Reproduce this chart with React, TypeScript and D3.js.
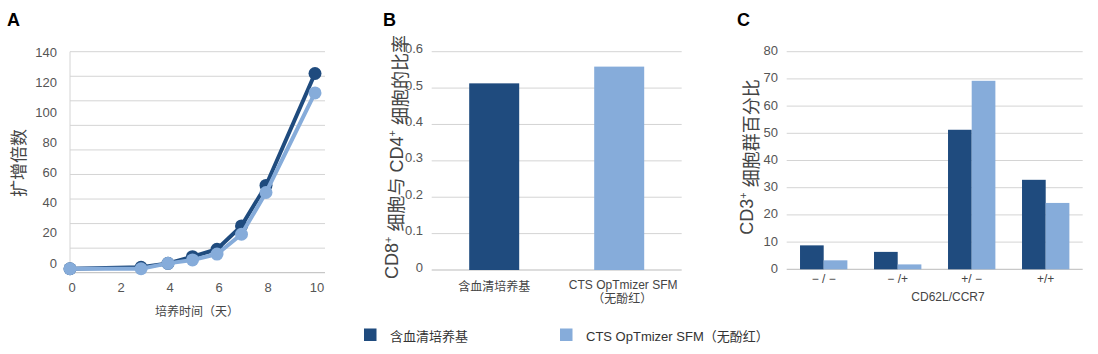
import React from "react";
import * as d3 from "d3";

// Panel A: expansion fold over culture days
const daysA = [0, 2.9, 4, 5, 6, 7, 8, 10];
const foldSerum = [2.4, 3.3, 5.7, 9.8, 14.3, 28.6, 53.3, 121.7];
const foldCts = [2.4, 2.4, 5.7, 7.8, 11.4, 23.5, 49, 109.8];
const ticksAX = [0, 2, 4, 6, 8, 10];

// Panel B: CD8+/CD4+ ratio
const mediaB = ["含血清培养基", "CTS OpTmizer SFM"];
const ratioB = [0.513, 0.559];

// Panel C: CD62L/CCR7 subsets
const subsetsC = ["− / −", "− /+", "+/ −", "+/+"];
const pctSerum = [8.8, 6.4, 51.3, 32.9];
const pctCts = [3.3, 1.8, 69.3, 24.4];

const seriesNames = ["含血清培养基", "CTS OpTmizer SFM（无酚红）"];
const DARK = "#1f4b7e";
const LIGHT = "#86acda";
const GRID = "#d4d4d4";
const TICK = "#555";
const FONT = "'Liberation Sans', Arial, 'Noto Sans CJK SC', sans-serif";

const PanelA = () => {
  const left = 70, right = 325, top = 51.7, bottom = 272.7;
  // grid / data scale
  const y = d3.scaleLinear().domain([0, 135]).range([bottom, top]);
  // printed tick labels (as in the original figure, not aligned with grid)
  const yLab = d3.scaleLinear().domain([0, 140]).range([263, 52]);
  const x = d3.scaleLinear().domain([0, 10]).range([70, 315]);
  const line = d3
    .line<number>()
    .x((_d, i) => x(daysA[i]))
    .y((d) => y(d));
  const series = [
    { vals: foldSerum, color: DARK },
    { vals: foldCts, color: LIGHT },
  ];
  return (
    <g>
      <text x={7} y={26} fontSize={18} fontWeight="bold" fill="#000">A</text>
      {d3.range(0, 136, 15).map((t) => (
        <line key={t} x1={left} x2={right} y1={y(t)} y2={y(t)} stroke={t === 0 ? "#bbb" : GRID} />
      ))}
      <line x1={left} x2={left} y1={top} y2={bottom} stroke={GRID} />
      {yLab.ticks(7).map((t) => (
        <text key={t} x={57} y={yLab(t)} dy="0.35em" textAnchor="end" fontSize={13} fill={TICK}>
          {t}
        </text>
      ))}
      {ticksAX.map((t) => (
        <text key={t} x={x(t) + 2} y={287} dy="0.35em" textAnchor="middle" fontSize={13} fill={TICK}>
          {t}
        </text>
      ))}
      <text x={197} y={312} dy="0.35em" textAnchor="middle" fontSize={12} fill="#444">
        培养时间（天）
      </text>
      <text
        transform={`translate(19,163) rotate(-90)`}
        dy="0.35em"
        textAnchor="middle"
        fontSize={17}
        fill="#444"
      >
        扩增倍数
      </text>
      {series.map((s, k) => (
        <g key={k}>
          <path d={line(s.vals) || ""} fill="none" stroke={s.color} strokeWidth={4} />
          {s.vals.map((v, i) => (
            <circle key={i} cx={x(daysA[i])} cy={y(v)} r={6.5} fill={s.color} />
          ))}
        </g>
      ))}
    </g>
  );
};

const PanelB = () => {
  const left = 431.7, right = 681.7, top = 51.7, bottom = 270;
  const y = d3.scaleLinear().domain([0, 0.6]).range([bottom, top]);
  const x = d3.scaleBand().domain(mediaB).range([left, right]).paddingInner(0.6).paddingOuter(0.3);
  const colors = [DARK, LIGHT];
  return (
    <g>
      <text x={383} y={26} fontSize={18} fontWeight="bold" fill="#000">B</text>
      {y.ticks(6).map((t) => (
        <g key={t}>
          <line x1={left} x2={right} y1={y(t)} y2={y(t)} stroke={t === 0 ? "#bbb" : GRID} />
          <text x={423} y={y(t) - 3} dy="0.35em" textAnchor="end" fontSize={13} fill={TICK}>
            {t === 0 ? "0" : t.toFixed(1)}
          </text>
        </g>
      ))}
      {mediaB.map((m, i) => (
        <rect key={m} x={x(m)} y={y(ratioB[i])} width={x.bandwidth()} height={y(0) - y(ratioB[i])} fill={colors[i]} />
      ))}
      <text x={x(mediaB[0])! + x.bandwidth() / 2} y={287} dy="0.35em" textAnchor="middle" fontSize={12} fill="#444">
        {mediaB[0]}
      </text>
      <text x={x(mediaB[1])! + x.bandwidth() / 2 + 4} y={285} dy="0.35em" textAnchor="middle" fontSize={12} fill="#444">
        {mediaB[1]}
      </text>
      <text x={x(mediaB[1])! + x.bandwidth() / 2 + 3} y={299} dy="0.35em" textAnchor="middle" fontSize={12} fill="#444">
        （无酚红）
      </text>
      <text
        transform={`translate(392,157) rotate(-90)`}
        dy="0.35em"
        textAnchor="middle"
        fontSize={18}
        fill="#444"
      >
        <tspan>CD8</tspan>
        <tspan fontSize={11} dy="-0.6em">+</tspan>
        <tspan dy="0.6em"> 细胞与 CD4</tspan>
        <tspan fontSize={11} dy="-0.6em">+</tspan>
        <tspan dy="0.6em"> 细胞的比率</tspan>
      </text>
    </g>
  );
};

const PanelC = () => {
  const left = 786.7, right = 1082.7, top = 51.7, bottom = 269.3;
  const y = d3.scaleLinear().domain([0, 80]).range([bottom, top]);
  const x0 = d3.scaleBand().domain(subsetsC).range([left, right]).paddingInner(0.36).paddingOuter(0.18);
  const x1 = d3.scaleBand().domain(["serum", "cts"]).range([0, x0.bandwidth()]);
  const groups = [
    { key: "serum", vals: pctSerum, color: DARK },
    { key: "cts", vals: pctCts, color: LIGHT },
  ];
  return (
    <g>
      <text x={737} y={26} fontSize={18} fontWeight="bold" fill="#000">C</text>
      {y.ticks(8).map((t) => (
        <g key={t}>
          <line x1={left} x2={right} y1={y(t)} y2={y(t)} stroke={t === 0 ? "#bbb" : GRID} />
          <text x={778} y={y(t) - 1} dy="0.35em" textAnchor="end" fontSize={13} fill={TICK}>
            {t}
          </text>
        </g>
      ))}
      {groups.map((g) =>
        subsetsC.map((c, i) => (
          <rect
            key={g.key + c}
            x={x0(c)! + x1(g.key)!}
            y={y(g.vals[i])}
            width={x1.bandwidth()}
            height={y(0) - y(g.vals[i])}
            fill={g.color}
          />
        ))
      )}
      {subsetsC.map((c) => (
        <text key={c} x={x0(c)! + x0.bandwidth() / 2} y={279} dy="0.35em" textAnchor="middle" fontSize={12} fill="#444">
          {c}
        </text>
      ))}
      <text x={948} y={297} dy="0.35em" textAnchor="middle" fontSize={12} fill="#444">
        CD62L/CCR7
      </text>
      <text
        transform={`translate(747,157) rotate(-90)`}
        dy="0.35em"
        textAnchor="middle"
        fontSize={18}
        fill="#444"
      >
        <tspan>CD3</tspan>
        <tspan fontSize={11} dy="-0.6em">+</tspan>
        <tspan dy="0.6em"> 细胞群百分比</tspan>
      </text>
    </g>
  );
};

const Legend = () => {
  const xs = [364, 560];
  const colors = [DARK, LIGHT];
  return (
    <g>
      {seriesNames.map((n, i) => (
        <g key={n}>
          <rect x={xs[i]} y={328.5} width={12.5} height={12.5} fill={colors[i]} />
          <text x={xs[i] + 26} y={336} dy="0.35em" fontSize={13} fill="#333">
            {n}
          </text>
        </g>
      ))}
    </g>
  );
};

export default function App() {
  return (
    <svg
      width={1098}
      height={354}
      style={{ position: "absolute", left: 0, top: 0, background: "#fff" }}
      fontFamily={FONT}
    >
      <rect width={1098} height={354} fill="#fff" />
      <PanelA />
      <PanelB />
      <PanelC />
      <Legend />
    </svg>
  );
}
